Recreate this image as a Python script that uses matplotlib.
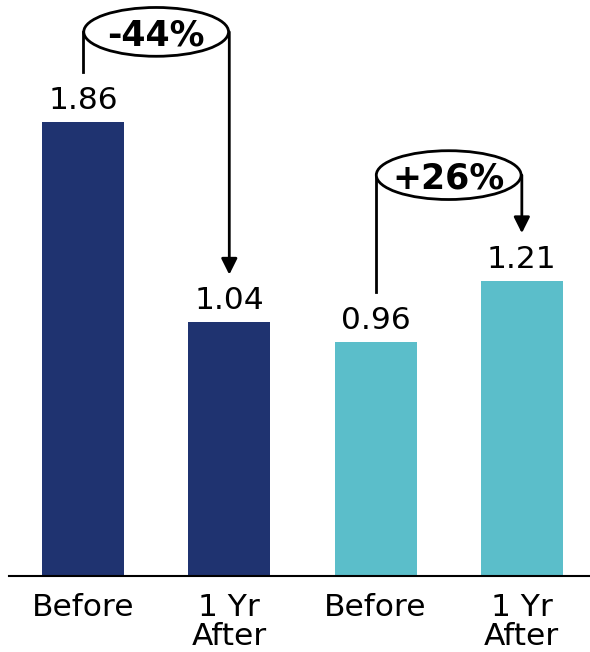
import matplotlib.pyplot as plt
from matplotlib.patches import Ellipse

labels = ['Before', '1 Yr\nAfter', 'Before', '1 Yr\nAfter']
values = [1.86, 1.04, 0.96, 1.21]
colors = ['#1F3370', '#1F3370', '#5BBECA', '#5BBECA']

# pairs compared by the bracket arrows: (from, to, text, bracket top)
pairs = [(0, 1, '-44%', 2.23), (2, 3, '+26%', 1.643)]


def main():
    fig = plt.figure(figsize=(5.9, 6.52), dpi=100)
    ax = fig.add_axes([9 / 590, 76 / 652, 581 / 590, 576 / 652])

    xs = range(len(values))
    ax.bar(xs, values, width=0.56, color=colors)
    for x, v in zip(xs, values):
        ax.annotate(f'{v:.2f}', (x, v), xytext=(0, 5), textcoords='offset points',
                    ha='center', va='bottom', fontsize=22.5)

    for a, b, txt, top in pairs:
        # left leg from ellipse down to just above the first label
        ax.plot([a, a], [top, values[a] + 0.205], color='black', lw=2, zorder=2)
        # right leg with arrow head pointing at the second label
        ax.annotate('', xy=(b, values[b] + 0.195), xytext=(b, top),
                    arrowprops=dict(arrowstyle='-|>', color='black', lw=2,
                                    mutation_scale=24, shrinkA=0, shrinkB=0),
                    zorder=2)
        ax.add_patch(Ellipse(((a + b) / 2, top), 0.99, 0.2, facecolor='white',
                             edgecolor='black', lw=2, zorder=3))
        ax.text((a + b) / 2, top, txt, ha='center', va='center_baseline',
                fontsize=25, fontweight='bold', zorder=4)

    ax.set_xlim(-0.506, 3.466)
    ax.set_ylim(0, 576 / 244)
    ax.set_xticks(list(xs))
    ax.set_xticklabels(labels, fontsize=22.5, linespacing=1.0)
    ax.tick_params(axis='x', length=0, pad=12)
    ax.set_yticks([])
    for s in ['top', 'left', 'right']:
        ax.spines[s].set_visible(False)
    ax.spines['bottom'].set_linewidth(1.5)

    fig.savefig('out.png', dpi=100)


if __name__ == '__main__':
    main()
